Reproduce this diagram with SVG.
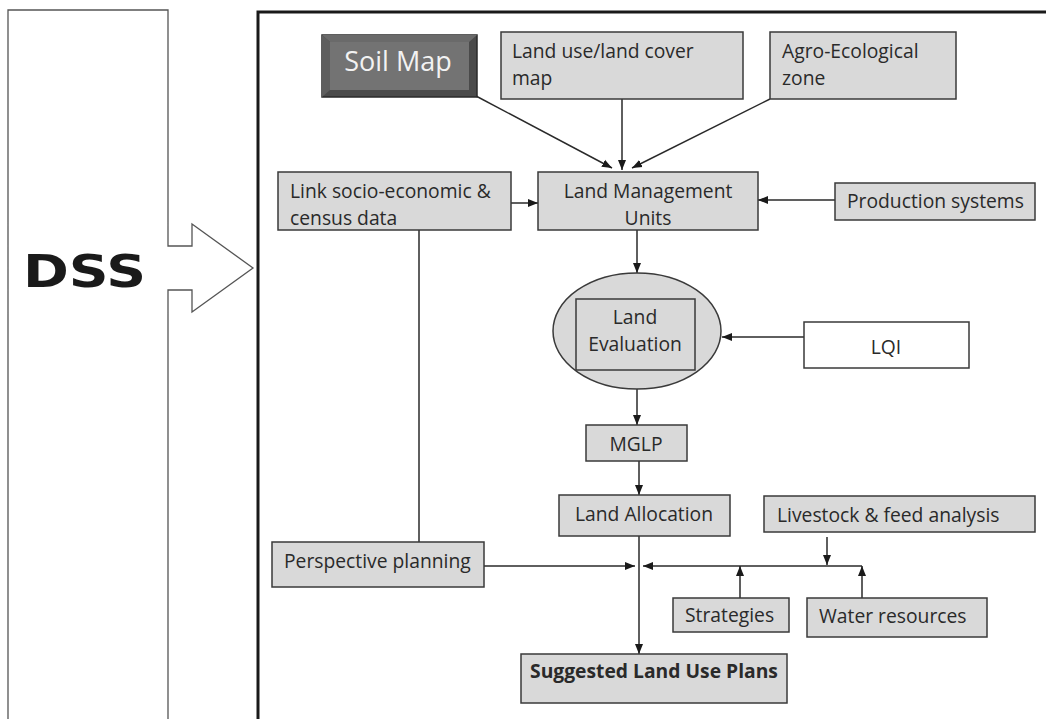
<svg xmlns="http://www.w3.org/2000/svg" width="1046" height="719" viewBox="0 0 1046 719">
<style>
.box{fill:#d9d9d9;stroke:#3a3a3a;stroke-width:1.5}
.t{font-family:"Open Sans","Liberation Sans",sans-serif;font-size:19.3px;fill:#2a2a2a}
.c{text-anchor:middle}
.ln{fill:none;stroke:#2a2a2a;stroke-width:1.5}
.arr{marker-end:url(#ah)}
</style>
<defs>
<marker id="ah" markerUnits="userSpaceOnUse" markerWidth="10" markerHeight="10" viewBox="0 0 10 10" refX="10" refY="5" orient="auto">
<path d="M0,1 L10,5 L0,9 Z" fill="#1a1a1a"/>
</marker>
</defs>
<rect width="1046" height="719" fill="#ffffff"/>
<g id="dss">
<path d="M8,725 L8,10 L168,10 L168,246 L192,246 L192,224 L253,268 L192,312 L192,290 L168,290 L168,725" fill="#fff" stroke="#555" stroke-width="1.3"/>
<text x="23" y="287" font-family="'DejaVu Sans',sans-serif" font-weight="bold" font-size="44" textLength="123" lengthAdjust="spacingAndGlyphs" fill="#1a1a1a">DSS</text>
</g>
<rect id="frame" x="258" y="12" width="800" height="720" fill="none" stroke="#1a1a1a" stroke-width="3"/>
<g id="connectors">
<path class="ln arr" d="M476,96 L612,168"/>
<path class="ln arr" d="M622,99 L622,170"/>
<path class="ln arr" d="M770,99 L632,168"/>
<path class="ln arr" d="M511,203 L538,203"/>
<path class="ln arr" d="M835,200 L758,200"/>
<path class="ln arr" d="M637,230 L637,273"/>
<path class="ln arr" d="M804,337 L722,337"/>
<path class="ln arr" d="M637,389 L637,425"/>
<path class="ln arr" d="M639,461 L639,495"/>
<path class="ln" d="M419,230 L419,542"/>
<path class="ln arr" d="M639,536 L639,654"/>
<path class="ln arr" d="M484,566 L635,566"/>
<path class="ln arr" d="M862,566 L643,566"/>
<path class="ln arr" d="M827,537 L827,565"/>
<path class="ln arr" d="M740,598 L740,566"/>
<path class="ln arr" d="M862,598 L862,566"/>
</g>
<g id="soil-map">
<rect x="322" y="35" width="155" height="62" fill="#4a4a4a" stroke="#2a2a2a" stroke-width="1.5"/>
<path d="M322,35 L477,35 L469,42 L330,42 Z" fill="#6a6a6a"/>
<path d="M322,35 L330,42 L330,90 L322,97 Z" fill="#5e5e5e"/>
<rect x="330" y="42" width="139" height="48" fill="#737373"/>
<text x="398" y="71" class="c" font-family="'Open Sans','Liberation Sans',sans-serif" font-size="27" fill="#f2f2f2">Soil Map</text>
</g>
<g id="land-use">
<rect class="box" x="501" y="32" width="242" height="67"/>
<text class="t" x="512" y="58">Land use/land cover</text>
<text class="t" x="512" y="85">map</text>
</g>
<g id="agro">
<rect class="box" x="770" y="32" width="186" height="67"/>
<text class="t" x="782" y="58">Agro-Ecological</text>
<text class="t" x="782" y="85">zone</text>
</g>
<g id="link-socio">
<rect class="box" x="278" y="172" width="233" height="58"/>
<text class="t" x="290" y="198">Link socio-economic &amp;</text>
<text class="t" x="290" y="225">census data</text>
</g>
<g id="lmu">
<rect class="box" x="538" y="172" width="220" height="58"/>
<text class="t c" x="648" y="198">Land Management</text>
<text class="t c" x="648" y="225">Units</text>
</g>
<g id="production">
<rect class="box" x="835" y="183" width="200" height="37"/>
<text class="t" x="847" y="208">Production systems</text>
</g>
<g id="land-evaluation">
<ellipse cx="637" cy="331" rx="84" ry="58" fill="#d9d9d9" stroke="#3a3a3a" stroke-width="1.5"/>
<rect x="576" y="299" width="119" height="71" fill="none" stroke="#3a3a3a" stroke-width="1.5"/>
<text class="t c" x="635" y="324">Land</text>
<text class="t c" x="635" y="351">Evaluation</text>
</g>
<g id="lqi">
<rect x="804" y="322" width="165" height="46" fill="#fff" stroke="#3a3a3a" stroke-width="1.5"/>
<text class="t c" x="886" y="354" font-size="24" fill="#111">LQI</text>
</g>
<g id="mglp">
<rect class="box" x="586" y="425" width="101" height="36"/>
<text class="t c" x="636" y="451">MGLP</text>
</g>
<g id="land-allocation">
<rect class="box" x="559" y="495" width="171" height="41"/>
<text class="t c" x="644" y="521">Land Allocation</text>
</g>
<g id="livestock">
<rect class="box" x="764" y="496" width="271" height="36"/>
<text class="t" x="777" y="522">Livestock &amp; feed analysis</text>
</g>
<g id="perspective">
<rect class="box" x="272" y="542" width="212" height="45"/>
<text class="t" x="284" y="568">Perspective planning</text>
</g>
<g id="strategies">
<rect class="box" x="673" y="598" width="116" height="34"/>
<text class="t" x="685" y="622">Strategies</text>
</g>
<g id="water">
<rect class="box" x="807" y="598" width="180" height="39"/>
<text class="t" x="819" y="623">Water resources</text>
</g>
<g id="suggested">
<rect class="box" x="521" y="654" width="266" height="49"/>
<text class="t c" x="654" y="678" font-size="17.7" font-weight="bold">Suggested Land Use Plans</text>
</g>
</svg>
